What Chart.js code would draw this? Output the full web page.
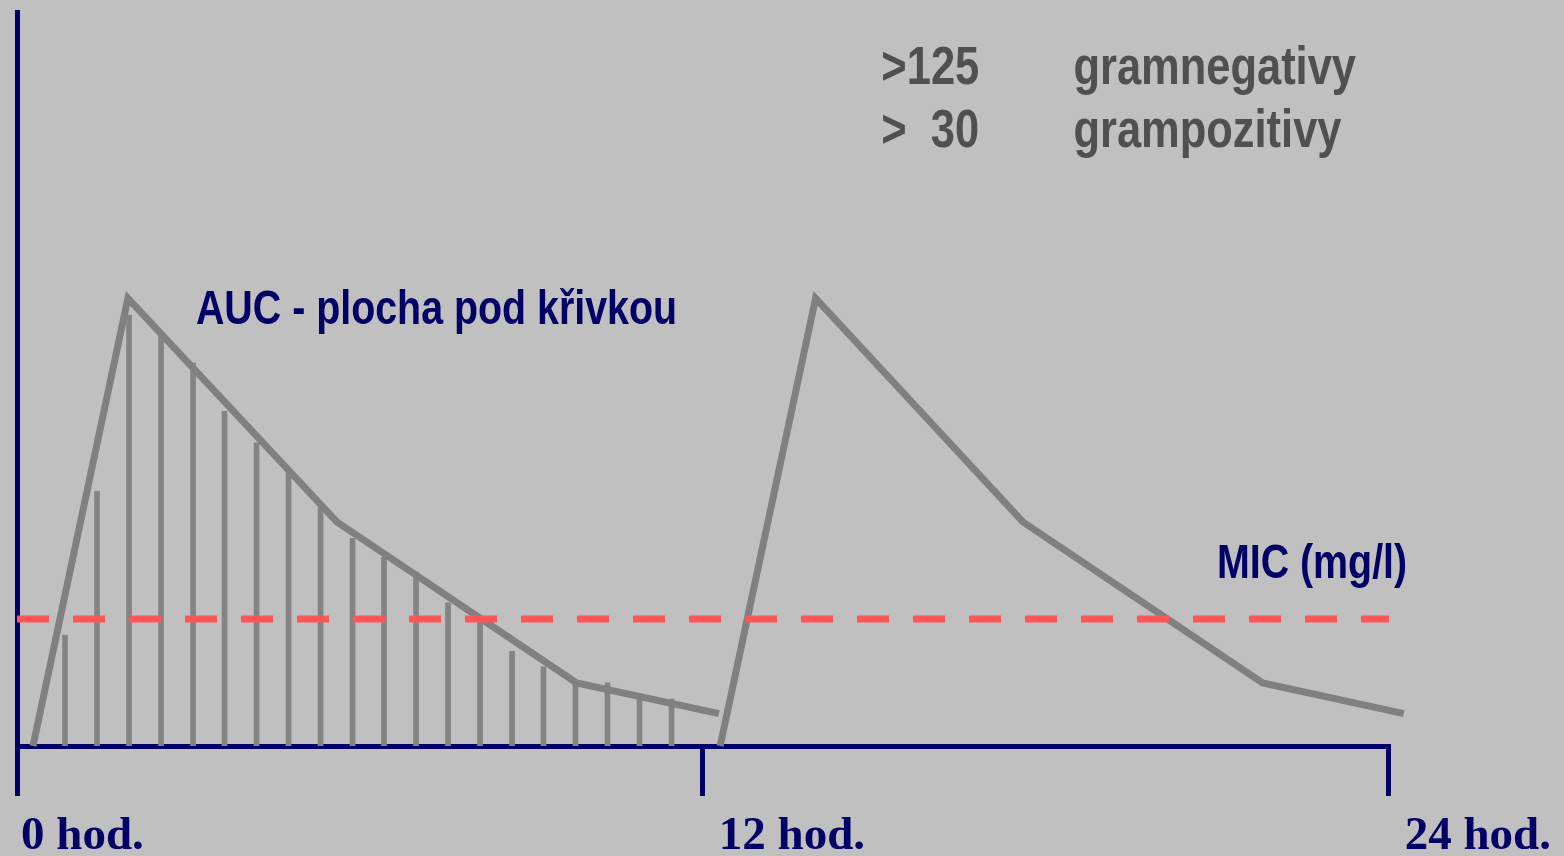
<!DOCTYPE html>
<html>
<head>
<meta charset="utf-8">
<script src="https://cdn.jsdelivr.net/npm/chart.js@4"></script>
<style>
  html, body { margin: 0; padding: 0; background: #c0c0c0; }
  #wrap { width: 1564px; height: 856px; }
</style>
</head>
<body>
<div id="wrap"><canvas id="aucChart"></canvas></div>
<script>
// osa x = hodiny, osa y = koncentrace (relativni jednotky 0-100)
const dose1Hours = [0.28, 1.94, 5.60, 9.79, 12.28];
const dose1Conc  = [0, 61.0, 30.5, 8.6, 4.4];
const dose2Hours = [12.30, 13.97, 17.60, 21.79, 24.26];
const dose2Conc  = [0, 61.0, 30.5, 8.6, 4.4];

// srafovani plochy pod krivkou
const hatchHours = [0.84, 1.40, 1.96, 2.52, 3.08, 3.63, 4.19, 4.75, 5.31, 5.87,
                    6.42, 6.98, 7.54, 8.10, 8.66, 9.21, 9.77, 10.33, 10.89, 11.45];
const hatchConc  = [15.1, 34.7, 58.7, 56.0, 52.2, 45.6, 41.3, 37.1, 32.4, 28.3,
                    25.7, 23.7, 19.5, 17.3, 12.9, 10.8, 8.7, 8.6, 6.4, 6.4];

const micHours = [0, 24];
const micConc  = [17.3, 17.3];

const tickHours  = [0, 12, 24];
const tickLabels = ['0 hod.', ' 12 hod.', ' 24 hod.'];

const NAVY = '#000066';
const GRAY_LINE = '#808080';
const GRAY_TEXT = '#505050';

const toPoints = (xs, ys) => xs.map((x, i) => ({ x: x, y: ys[i] }));

// textove popisky (pozice v hodinach / jednotkach koncentrace)
const notes = [
  { text: 'AUC - plocha pod křivkou', x: 3.13, y: 57.5, color: NAVY, size: 48 },
  { text: 'MIC (mg/l)', x: 20.99, y: 22.9, color: NAVY, size: 48 },
  { text: '>125', x: 15.12, y: 90.2, color: GRAY_TEXT, size: 53 },
  { text: 'gramnegativy', x: 18.48, y: 90.2, color: GRAY_TEXT, size: 53 },
  { text: '>  30', x: 15.12, y: 81.6, color: GRAY_TEXT, size: 53 },
  { text: 'grampozitivy', x: 18.48, y: 81.6, color: GRAY_TEXT, size: 53 }
];

function hasFont(name) {
  const c = document.createElement('canvas').getContext('2d');
  c.font = 'bold 40px monospace';
  const a = c.measureText('gramnegativy AUC').width;
  c.font = 'bold 40px "' + name + '", monospace';
  const b = c.measureText('gramnegativy AUC').width;
  return a !== b;
}
const narrowOk = hasFont('Liberation Sans Narrow');

const notesPlugin = {
  id: 'notes',
  afterDraw(chart) {
    const ctx = chart.ctx;
    const xs = chart.scales.x, ys = chart.scales.y;
    ctx.save();
    ctx.textBaseline = 'alphabetic';
    ctx.textAlign = 'left';
    notes.forEach(n => {
      const px = xs.getPixelForValue(n.x);
      const py = ys.getPixelForValue(n.y);
      ctx.fillStyle = n.color;
      ctx.save();
      ctx.translate(px, py);
      if (narrowOk) {
        ctx.font = 'bold ' + n.size + 'px "Liberation Sans Narrow"';
      } else {
        ctx.font = 'bold ' + n.size + 'px "Liberation Sans", Arial, sans-serif';
        ctx.scale(0.82, 1);
      }
      ctx.fillText(n.text, 0, 0);
      ctx.restore();
    });
    ctx.restore();
  }
};

const ctx = document.getElementById('aucChart').getContext('2d');
new Chart(ctx, {
  type: 'line',
  data: {
    datasets: [
      {
        label: 'MIC',
        data: toPoints(micHours, micConc),
        borderColor: '#ff5555',
        borderWidth: 7,
        borderDash: [32, 24],
        borderCapStyle: 'butt',
        pointRadius: 0,
        order: 0
      },
      {
        label: 'davka 1',
        data: toPoints(dose1Hours, dose1Conc),
        borderColor: GRAY_LINE,
        borderWidth: 7,
        pointRadius: 0,
        tension: 0,
        clip: false,
        order: 1
      },
      {
        label: 'davka 2',
        data: toPoints(dose2Hours, dose2Conc),
        borderColor: GRAY_LINE,
        borderWidth: 7,
        pointRadius: 0,
        tension: 0,
        clip: false,
        order: 1
      },
      {
        type: 'bar',
        label: 'AUC',
        data: toPoints(hatchHours, hatchConc),
        backgroundColor: '#848484',
        borderWidth: 0,
        barThickness: 5,
        order: 2
      }
    ]
  },
  options: {
    responsive: true,
    maintainAspectRatio: false,
    animation: false,
    layout: { padding: { top: 12, left: 14, right: 174, bottom: 0 } },
    plugins: {
      legend: { display: false },
      tooltip: { enabled: false }
    },
    scales: {
      x: {
        type: 'linear',
        min: 0,
        max: 24,
        offset: false,
        z: 1,
        afterBuildTicks: s => { s.ticks = tickHours.map(v => ({ value: v })); },
        afterFit: s => { s.height = 110; },
        ticks: {
          align: 'start',
          padding: 17,
          labelOffset: 4,
          color: NAVY,
          font: { family: '"Liberation Serif", "Times New Roman", serif', size: 47, weight: 'bold', lineHeight: 1 },
          callback: v => tickLabels[tickHours.indexOf(v)]
        },
        grid: {
          offset: false,
          drawOnChartArea: false,
          drawTicks: true,
          tickLength: 50,
          tickWidth: 5,
          tickColor: NAVY,
          color: NAVY,
          lineWidth: 5
        },
        border: { display: true, color: NAVY, width: 5 }
      },
      y: {
        min: 0,
        max: 100,
        z: 1,
        afterFit: s => { s.width = 0; },
        ticks: { display: false },
        grid: { display: false },
        border: { display: true, color: NAVY, width: 5 }
      }
    }
  },
  plugins: [notesPlugin]
});
</script>
</body>
</html>
